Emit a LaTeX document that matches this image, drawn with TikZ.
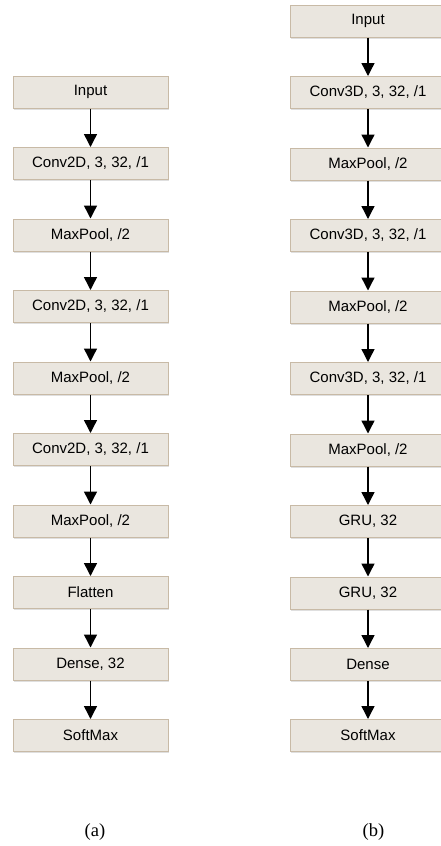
\documentclass[tikz,border=0pt]{standalone}
\usepackage{fontspec}
\setmainfont{Liberation Serif}
\setsansfont{Liberation Sans}
\usetikzlibrary{arrows.meta,shadows}
\definecolor{layerfill}{HTML}{EAE6DF}
\definecolor{layerdraw}{HTML}{C8BAA6}
\tikzset{
  layer/.style={rectangle, draw=layerdraw, fill=layerfill, line width=1pt,
    minimum width=155pt, minimum height=32pt, inner sep=0pt,
    font=\sffamily\fontsize{15}{17}\selectfont,
    drop shadow={shadow xshift=0.8pt, shadow yshift=-1.8pt, opacity=0.25, fill=gray}},
  flow/.style={-{Triangle[width=13pt,length=13pt]}, line width=1.4pt},
  caption/.style={font=\fontsize{18.5}{20}\selectfont}
}
\begin{document}
\begin{tikzpicture}[x=1pt, y=-1pt]
\useasboundingbox (0,0) rectangle (441,846);
% (a) 2D network
\node[layer] (a0) at (90.5,92){Input};
\node[layer] (a1) at (90.5,163.5){Conv2D, 3, 32, /1};
\node[layer] (a2) at (90.5,235){MaxPool, /2};
\node[layer] (a3) at (90.5,306.5){Conv2D, 3, 32, /1};
\node[layer] (a4) at (90.5,378){MaxPool, /2};
\node[layer] (a5) at (90.5,449.5){Conv2D, 3, 32, /1};
\node[layer] (a6) at (90.5,521){MaxPool, /2};
\node[layer] (a7) at (90.5,592.5){Flatten};
\node[layer] (a8) at (90.5,664){Dense, 32};
\node[layer] (a9) at (90.5,735.5){SoftMax};
\foreach \i [evaluate=\i as \j using int(\i+1)] in {0,...,8}
  \draw[flow] (a\i) -- (a\j);
\node[caption] (capa) at (95,832){(a)};
% (b) 3D network
\node[layer] (b0) at (368,21){Input};
\node[layer] (b1) at (368,92.5){Conv3D, 3, 32, /1};
\node[layer] (b2) at (368,164){MaxPool, /2};
\node[layer] (b3) at (368,235.5){Conv3D, 3, 32, /1};
\node[layer] (b4) at (368,307){MaxPool, /2};
\node[layer] (b5) at (368,378.5){Conv3D, 3, 32, /1};
\node[layer] (b6) at (368,450){MaxPool, /2};
\node[layer] (b7) at (368,521.5){GRU, 32};
\node[layer] (b8) at (368,593){GRU, 32};
\node[layer] (b9) at (368,664.5){Dense};
\node[layer] (b10) at (368,735.5){SoftMax};
\foreach \i [evaluate=\i as \j using int(\i+1)] in {0,...,9}
  \draw[flow] (b\i) -- (b\j);
\node[caption] (capb) at (373.5,832){(b)};
\end{tikzpicture}
\end{document}
